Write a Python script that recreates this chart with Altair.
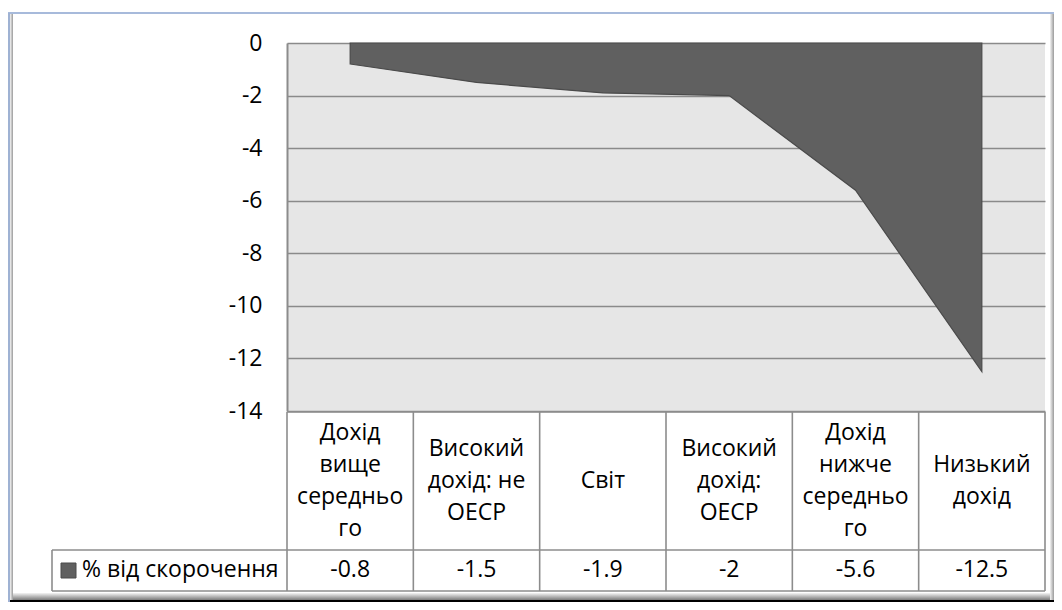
import altair as alt
import pandas as pd

# ---- data ----
categories = [
    "Дохід\nвище\nсередньо\nго",
    "Високий\nдохід: не\nОЕСР",
    "Світ",
    "Високий\nдохід:\nОЕСР",
    "Дохід\nнижче\nсередньо\nго",
    "Низький\nдохід",
]
values = [-0.8, -1.5, -1.9, -2, -5.6, -12.5]
value_labels = ["-0.8", "-1.5", "-1.9", "-2", "-5.6", "-12.5"]
series_name = "% від скорочення"
y_ticks = [0, -2, -4, -6, -8, -10, -12, -14]

# ---- layout / style ----
W, H = 758, 368
FONT = "Open Sans"
FS = 23
LH = 32
GRID = "#8a8a8a"
LINE = "#8c8c8c"
AREA = "#606060"

df = pd.DataFrame({
    "idx": list(range(len(categories))),
    "cat": categories,
    "n": [c.count("\n") + 1 for c in categories],
    "value": values,
    "label": value_labels,
})
bounds = pd.DataFrame({"b": [i - 0.5 for i in range(len(categories) + 1)]})
one = pd.DataFrame({"k": [0]})

x_scale = alt.Scale(domain=[-0.5, len(categories) - 0.5], nice=False, zero=False)
y_scale = alt.Scale(domain=[min(y_ticks), max(y_ticks)], nice=False)

area = alt.Chart(df).mark_area(
    fill=AREA, stroke="#4a4a4a", strokeWidth=1.2, opacity=1, fillOpacity=1
).encode(
    x=alt.X("idx:Q", scale=x_scale, axis=None),
    y=alt.Y(
        "value:Q",
        scale=y_scale,
        axis=alt.Axis(
            values=y_ticks,
            title=None,
            grid=True,
            gridColor=GRID,
            gridWidth=1.6,
            gridOpacity=1,
            domain=True,
            domainColor=LINE,
            domainWidth=2,
            ticks=False,
            labelPadding=25,
            labelFont=FONT,
            labelFontSize=FS,
            labelColor="#000000",
            labelExpr="datum.value + ''",
            labelBound=False,
            labelFlush=False,
            labelOverlap=False,
        ),
    ),
)


def rule(x, x2, y, y2, color=LINE, w=1.6):
    return alt.Chart(one).mark_rule(color=color, strokeWidth=w).encode(
        x=alt.value(x), x2=alt.value(x2), y=alt.value(y), y2=alt.value(y2)
    )


def box(x, x2, y, y2, fill):
    return alt.Chart(one).mark_rect(fill=fill, strokeWidth=0).encode(
        x=alt.value(x), x2=alt.value(x2), y=alt.value(y), y2=alt.value(y2)
    )


# data table grid
col_rules = alt.Chart(bounds).mark_rule(color=LINE, strokeWidth=1.6).encode(
    x=alt.X("b:Q", scale=x_scale, axis=None),
    y=alt.value(369),
    y2=alt.value(548),
)
h_top = rule(0, W, 369, 369)
h_mid = rule(-235, W, 507, 507)
h_bot = rule(-235, W, 548, 548)
v_leg = rule(-235, -235, 507, 548)

# header cells: one layer per line count so each block is centred in its cell
header_layers = []
for n in sorted(set(df["n"])):
    header_layers.append(
        alt.Chart(df).transform_filter(f"datum.n == {n}").mark_text(
            font=FONT, fontSize=FS, lineBreak="\n", lineHeight=LH,
            baseline="middle", align="center", color="#000000",
            dy=-(n - 1) * LH / 2,
        ).encode(
            x=alt.X("idx:Q", scale=x_scale, axis=None),
            y=alt.value(438),
            text="cat:N",
        )
    )

value_text = alt.Chart(df).mark_text(
    font=FONT, fontSize=FS, baseline="middle", align="center", color="#000000",
).encode(
    x=alt.X("idx:Q", scale=x_scale, axis=None),
    y=alt.value(527),
    text="label:N",
)

legend_swatch = alt.Chart(one).mark_rect(fill=AREA, stroke="#4a4a4a", strokeWidth=1).encode(
    x=alt.value(-226), x2=alt.value(-211), y=alt.value(520), y2=alt.value(535)
)
legend_text = alt.Chart(pd.DataFrame({"t": [series_name]})).mark_text(
    font=FONT, fontSize=FS, baseline="middle", align="left", color="#000000",
).encode(x=alt.value(-205), y=alt.value(527), text="t:N")

# outer frame (Excel chart area border with shadow)
shadow_v = alt.LinearGradient(
    gradient="linear",
    stops=[alt.GradientStop(color="#f4f4f4", offset=0), alt.GradientStop(color="#7a7a7a", offset=1)],
    x1=0, x2=0, y1=0, y2=1,
)
shadow_h = alt.LinearGradient(
    gradient="linear",
    stops=[alt.GradientStop(color="#f4f4f4", offset=0), alt.GradientStop(color="#9a9a9a", offset=1)],
    x1=0, x2=1, y1=0, y2=0,
)
frame_bottom = box(-279, 767, 550, 557, shadow_v)
frame_black = box(-279, 767, 557, 559, "#000000")
frame_right = box(763, 767, -29, 557, shadow_h)
frame_top = rule(-279, 767, -30, -30, color="#a7badb", w=2)
frame_left = rule(-278, -278, -30, 559, color="#9fb2d3", w=2)
frame_left_sh = box(-277, -274, -29, 557, shadow_h)

chart = alt.layer(
    area,
    col_rules, h_top, h_mid, h_bot, v_leg,
    *header_layers, value_text, legend_swatch, legend_text,
    frame_bottom, frame_black, frame_right, frame_left_sh, frame_top, frame_left,
).properties(
    width=W,
    height=H,
    padding={"left": 279, "top": 35, "right": 9, "bottom": 191},
    autosize=alt.AutoSizeParams(type="none"),
    background="#ffffff",
).configure_view(
    fill="#e6e6e6", stroke=None
)

chart.save("out.html", embed_options={"renderer": "svg", "actions": False})
